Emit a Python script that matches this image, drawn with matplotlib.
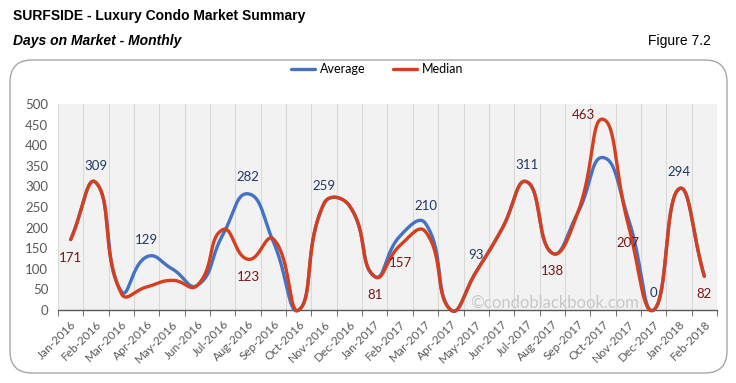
import numpy as np
import matplotlib
matplotlib.use("Agg")
import matplotlib.pyplot as plt
from matplotlib.patches import FancyBboxPatch

months = ["Jan-2016", "Feb-2016", "Mar-2016", "Apr-2016", "May-2016", "Jun-2016",
          "Jul-2016", "Aug-2016", "Sep-2016", "Oct-2016", "Nov-2016", "Dec-2016",
          "Jan-2017", "Feb-2017", "Mar-2017", "Apr-2017", "May-2017", "Jun-2017",
          "Jul-2017", "Aug-2017", "Sep-2017", "Oct-2017", "Nov-2017", "Dec-2017",
          "Jan-2018", "Feb-2018"]
average = [171, 309, 45, 129, 100, 60, 182, 282, 165, 0, 259, 253,
           81, 180, 210, 0, 93, 195, 311, 138, 235, 370, 222, 0, 294, 82]
median = [171, 309, 40, 56, 72, 60, 195, 123, 172, 0, 259, 253,
          81, 157, 190, 0, 93, 195, 311, 138, 235, 463, 207, 0, 294, 82]

# which points carry a data label
avg_labels = [1, 3, 7, 10, 14, 16, 18, 23, 24]
med_labels = [0, 7, 12, 13, 19, 21, 22, 25]

BLUE = "#4472C4"
RED = "#D63F1E"
BLUE_TXT = "#1F3864"
RED_TXT = "#7B1414"


def smooth(ax, y, tension=0.5, n=40):
    # Excel-like smoothing: bezier segments, control arms scaled by
    # neighbouring segment lengths (worked out in screen space)
    pts = ax.transData.transform(np.column_stack([np.arange(len(y)), y]).astype(float))
    P = np.vstack([pts[0], pts, pts[-1]])
    t = np.linspace(0, 1, n)[:, None]
    out = []
    for i in range(len(pts) - 1):
        p0, p1, p2, p3 = P[i], P[i + 1], P[i + 2], P[i + 3]
        d01 = np.hypot(*(p1 - p0))
        d12 = np.hypot(*(p2 - p1))
        d23 = np.hypot(*(p3 - p2))
        fb = tension * d12 / (d01 + d12) if d01 + d12 > 0 else 0
        fa = tension * d12 / (d12 + d23) if d12 + d23 > 0 else 0
        c1 = p1 + fb * (p2 - p0)
        c2 = p2 - fa * (p3 - p1)
        b = (1 - t) ** 3 * p1 + 3 * (1 - t) ** 2 * t * c1 + 3 * (1 - t) * t ** 2 * c2 + t ** 3 * p2
        out.append(b)
    xy = ax.transData.inverted().transform(np.vstack(out))
    return xy[:, 0], xy[:, 1]


fig = plt.figure(figsize=(7.36, 3.83), dpi=100)
W, H = 736, 383

box = FancyBboxPatch((10 / W, 10 / H), 717 / W, 313 / H,
                     boxstyle="round,pad=0,rounding_size=0.03",
                     transform=fig.transFigure, facecolor="white",
                     edgecolor="#A6A6A6", linewidth=1.0, mutation_aspect=W / H,
                     zorder=-5)
fig.patches.append(box)

fig.text(13 / W, 1 - 16 / H, "SURFSIDE - Luxury Condo Market Summary",
         fontsize=10, fontweight="bold", family=["Liberation Sans Narrow", "Liberation Sans"],
         va="center", ha="left")
fig.text(13 / W, 1 - 41 / H, "Days on Market - Monthly", fontsize=10,
         fontweight="bold", fontstyle="italic",
         family=["Liberation Sans Narrow", "Liberation Sans"], va="center", ha="left")
fig.text(711 / W, 1 - 41 / H, "Figure 7.2", fontsize=10,
         family=["Liberation Sans Narrow", "Liberation Sans"], va="center", ha="right")

ax = fig.add_axes([58 / W, 1 - 310 / H, 659 / W, 206 / H], zorder=2)
ax.set_facecolor("#F2F2F2")
ax.set_xlim(-0.5, len(months) - 0.5)
ax.set_ylim(0, 500)

x = np.arange(len(months))
sx, sy = smooth(ax, average)
ax.plot(sx, sy, color=BLUE, lw=2.4, label="Average", solid_capstyle="round",
        zorder=3, clip_on=False)
sx, sy = smooth(ax, median)
ax.plot(sx, sy, color=RED, lw=2.4, label="Median", solid_capstyle="round",
        zorder=4, clip_on=False)

lab_font = dict(fontsize=9.5, family="Lato")
for i in avg_labels:
    ax.annotate(str(average[i]), (x[i], average[i]), xytext=(0, 17),
                textcoords="offset pixels", ha="center", va="center",
                color=BLUE_TXT, zorder=6, **lab_font)
for i in med_labels:
    if median[i] == 463:
        off, ha = (-8, 4), "right"
    else:
        off, ha = (0, -18), "center"
    ax.annotate(str(median[i]), (x[i], median[i]), xytext=off,
                textcoords="offset pixels", ha=ha, va="center",
                color=RED_TXT, zorder=6, **lab_font)

ax.text(0.754, 0.035, "\u00a9condoblackbook.com", transform=ax.transAxes,
        fontsize=12, family="Lato", color="#C8C8C8", ha="center", va="center", zorder=5)

ax.set_yticks(np.arange(0, 501, 50))
ax.set_xticks(x)
ax.set_xticklabels(months, rotation=45, ha="right", rotation_mode="anchor",
                   fontsize=8.5, family="Lato", color="#595959")
ax.set_xticks(np.arange(-0.5, len(months), 1), minor=True)
ax.tick_params(axis="x", which="major", length=0, pad=6)
ax.tick_params(axis="x", which="minor", length=4, color="#595959", direction="out")
ax.tick_params(axis="y", length=0, pad=7, labelsize=9.5, labelcolor="#595959")
for lab in ax.get_yticklabels():
    lab.set_family("Lato")
ax.grid(axis="x", which="minor", color="#D9D9D9", lw=0.8)
ax.grid(axis="x", which="major", visible=False)
ax.set_axisbelow(True)
for s in ["top", "right", "left"]:
    ax.spines[s].set_visible(False)
ax.spines["bottom"].set_color("#595959")
ax.spines["bottom"].set_linewidth(1.0)

leg = fig.legend(loc="center", bbox_to_anchor=(377 / W, 1 - 69 / H), ncol=2,
                 frameon=False, prop={"family": "Lato", "size": 9},
                 handlelength=1.9, columnspacing=2.2, handletextpad=0.4)

fig.savefig("out.png", dpi=100)
